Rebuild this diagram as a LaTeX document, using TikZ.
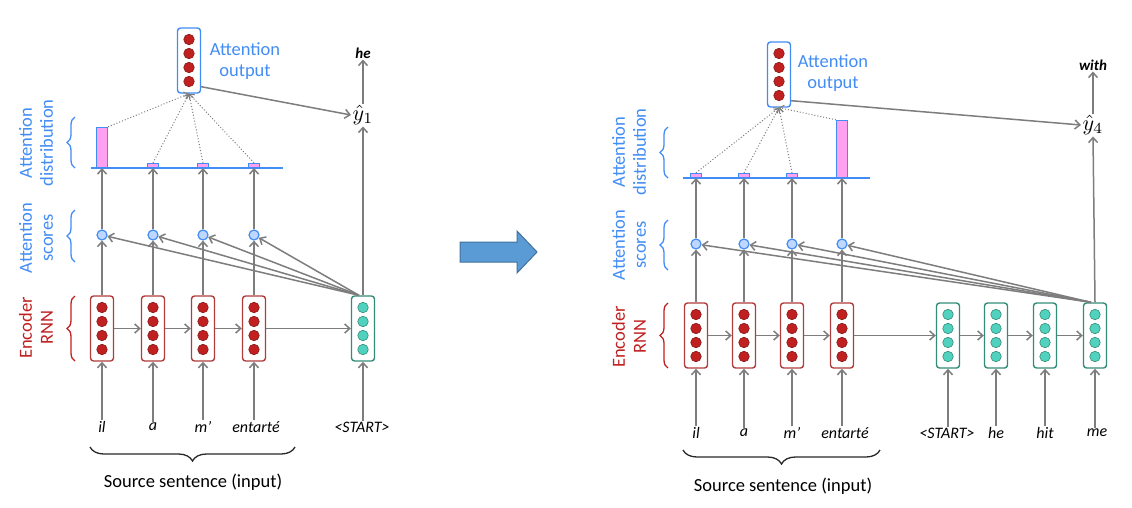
\documentclass[tikz,border=0pt]{standalone}
\usepackage{fontspec}
\setmainfont{Carlito}
\usetikzlibrary{arrows.meta,decorations.pathreplacing,calc}
\definecolor{lblue}{RGB}{66,140,245}
\definecolor{encred}{RGB}{176,60,60}
\definecolor{dotred}{RGB}{192,32,32}
\definecolor{decteal}{RGB}{50,140,120}
\definecolor{dotteal}{RGB}{80,210,190}
\definecolor{arrgray}{RGB}{125,125,125}
\definecolor{barpink}{RGB}{255,160,240}
\definecolor{scorefill}{RGB}{190,215,255}
\definecolor{bigblue}{RGB}{91,155,213}
\definecolor{bigborder}{RGB}{65,113,156}
\definecolor{bracecol}{RGB}{40,40,40}
\tikzset{
  vecbox/.style={draw, rounded corners=3pt, line width=1.4pt, minimum width=23pt, minimum height=65pt, inner sep=0pt, fill=white},
  encbox/.style={vecbox, draw=encred},
  decbox/.style={vecbox, draw=decteal},
  outbox/.style={vecbox, draw=lblue},
  vdot/.style={circle, inner sep=0pt, minimum size=10.5pt, line width=0.6pt},
  reddot/.style={vdot, fill=dotred, draw=dotred!70!black},
  tealdot/.style={vdot, fill=dotteal, draw=decteal},
  score/.style={circle, draw=lblue, fill=scorefill, line width=1.2pt, minimum size=10pt, inner sep=0pt},
  bar/.style={draw=lblue, fill=barpink, line width=1.2pt, minimum width=11pt, inner sep=0pt, anchor=south},
  arr/.style={draw=arrgray, line width=1.5pt, -{Straight Barb[length=5pt,width=9pt]}},
  dotarr/.style={draw=arrgray, line width=1pt, dotted, -{Straight Barb[length=4pt,width=7pt]}},
  lbl/.style={text=lblue, font=\fontsize{18.5}{21}\selectfont, align=center},
  rlbl/.style={text=dotred, font=\fontsize{18.5}{21}\selectfont, align=center},
  word/.style={font=\fontsize{16}{18}\selectfont\itshape, inner sep=1pt},
  outword/.style={font=\fontsize{15}{18}\selectfont\bfseries\itshape, inner sep=1pt},
  yhat/.style={inner sep=1.5pt},
  sbrace/.style={decorate, decoration={brace, amplitude=8pt}, line width=1.3pt},
  bbrace/.style={decorate, decoration={brace, amplitude=14pt}, line width=1.3pt, draw=bracecol},
  baseline/.style={draw=lblue, line width=1.4pt},
  bigarrow/.style={fill=bigblue, draw=bigborder, line width=1pt},
}
\newcommand\vecnode[4]{%
  \node[#3] (#1) at (#2) {};
  \foreach \d [count=\k] in {-21,-7,7,21} \node[#4] (#1d\k) at ($(#1.center)+(0,\d)$) {};
}
\begin{document}
\begin{tikzpicture}[x=1pt,y=-1pt]
\useasboundingbox (0,0) rectangle (1132,507);

% ================= LEFT PANEL =================
\vecnode{le1}{102,328.5}{encbox}{reddot}
\vecnode{le2}{153,328.5}{encbox}{reddot}
\vecnode{le3}{203,328.5}{encbox}{reddot}
\vecnode{le4}{254,328.5}{encbox}{reddot}
\vecnode{ld1}{363,328.5}{decbox}{tealdot}
\node[word] (lw1) at (102,427) {il};
\node[word] (lw2) at (153,427) {a};
\node[word] (lw3) at (203,427) {m’};
\node[word] (lw4) at (256,427) {entarté};
\node[word] (lw5) at (362,427) {<START>};
\foreach \i/\b in {1/le1,2/le2,3/le3,4/le4,5/ld1} \draw[arr] (lw\i.north -| \b.south) -- (\b.south);
\draw[arr] (le1.east) -- (le2.west);
\draw[arr] (le2.east) -- (le3.west);
\draw[arr] (le3.east) -- (le4.west);
\draw[arr] (le4.east) -- (ld1.west);
\foreach \i/\x in {1/102,2/153,3/203,4/254} {
  \node[score] (ls\i) at (\x,235) {};
  \coordinate (lb\i) at (\x,168);
}
\coordinate (lbaseL) at (91,168);
\coordinate (lbaseR) at (283,168);
\draw[baseline] (lbaseL) -- (lbaseR);
\node[bar, minimum height=40pt] (lp1) at (lb1) {};
\node[bar, minimum height=4pt] (lp2) at (lb2) {};
\node[bar, minimum height=4pt] (lp3) at (lb3) {};
\node[bar, minimum height=4pt] (lp4) at (lb4) {};
\foreach \i in {1,2,3,4} {
  \draw[arr] (le\i.north) -- (ls\i.south);
  \draw[arr] (ls\i.north) -- (lb\i);
  \draw[arr] ([xshift=-4pt]ld1.north) -- (ls\i);
}
\vecnode{lo}{189,60.5}{outbox}{reddot}
\node[lbl] (lol) at (245,61) {Attention\\output};
\draw[dotarr] (lp1.north east) -- (lo.south);
\foreach \i in {2,3,4} \draw[dotarr] (lp\i.north) -- (lo.south);
\node[yhat] (ly) at (363,115) {\scalebox{2.2}{$\hat{y}_1$}};
\node[outword] (lout) at (363,53) {he};
\draw[arr] ($(lo.south east)+(0,-7)$) -- (ly.west);
\draw[arr] (ly.north) -- (lout.south);
\draw[arr] (ld1.north) -- (ly.south);
\node[rlbl, rotate=90] (lenc) at (36,328) {Encoder\\RNN};
\node[lbl, rotate=90] (lsc) at (36,238) {Attention\\scores};
\node[lbl, rotate=90] (ldi) at (36,143) {Attention\\distribution};
\draw[sbrace, draw=dotred] (75,361) -- (75,296);
\draw[sbrace, draw=lblue] (75,262) -- (75,210);
\draw[sbrace, draw=lblue] (75,168) -- (75,117);
\draw[bbrace] (295,447) -- (90,447);
\node[lbl, text=black] (lsrc) at (193,482) {Source sentence (input)};

% ================= BIG ARROW =================
\draw[bigarrow] (460,242) -- (517,242) -- (517,231) -- (537,252) -- (517,273) -- (517,262) -- (460,262) -- cycle;

% ================= RIGHT PANEL =================
\vecnode{re1}{696,335.5}{encbox}{reddot}
\vecnode{re2}{744,335.5}{encbox}{reddot}
\vecnode{re3}{792,335.5}{encbox}{reddot}
\vecnode{re4}{842,335.5}{encbox}{reddot}
\vecnode{rd1}{948,335.5}{decbox}{tealdot}
\vecnode{rd2}{996,335.5}{decbox}{tealdot}
\vecnode{rd3}{1045,335.5}{decbox}{tealdot}
\vecnode{rd4}{1095,335.5}{decbox}{tealdot}
\node[word] (rw1) at (696,433) {il};
\node[word] (rw2) at (744,433) {a};
\node[word] (rw3) at (792,433) {m’};
\node[word] (rw4) at (845,433) {entarté};
\node[word] (rw5) at (947,433) {<START>};
\node[word] (rw6) at (996,433) {he};
\node[word] (rw7) at (1045,433) {hit};
\node[word] (rw8) at (1097,433) {me};
\foreach \i/\b in {1/re1,2/re2,3/re3,4/re4,5/rd1,6/rd2,7/rd3,8/rd4} \draw[arr] (rw\i.north -| \b.south) -- (\b.south);
\draw[arr] (re1.east) -- (re2.west);
\draw[arr] (re2.east) -- (re3.west);
\draw[arr] (re3.east) -- (re4.west);
\draw[arr] (re4.east) -- (rd1.west);
\draw[arr] (rd1.east) -- (rd2.west);
\draw[arr] (rd2.east) -- (rd3.west);
\draw[arr] (rd3.east) -- (rd4.west);
\foreach \i/\x in {1/696,2/744,3/792,4/842} {
  \node[score] (rs\i) at (\x,244) {};
  \coordinate (rb\i) at (\x,178);
}
\coordinate (rbaseL) at (683,178);
\coordinate (rbaseR) at (870,178);
\draw[baseline] (rbaseL) -- (rbaseR);
\node[bar, minimum height=4pt] (rp1) at (rb1) {};
\node[bar, minimum height=4pt] (rp2) at (rb2) {};
\node[bar, minimum height=4pt] (rp3) at (rb3) {};
\node[bar, minimum height=57pt] (rp4) at (rb4) {};
\foreach \i in {1,2,3,4} {
  \draw[arr] (re\i.north) -- (rs\i.south);
  \draw[arr] (rs\i.north) -- (rb\i);
  \draw[arr] ([xshift=-4pt]rd4.north) -- (rs\i);
}
\vecnode{ro}{779,74.5}{outbox}{reddot}
\node[lbl] (rol) at (833,73) {Attention\\output};
\foreach \i in {1,2,3} \draw[dotarr] (rp\i.north) -- (ro.south);
\draw[dotarr] (rp4.north west) -- (ro.south);
\node[yhat] (ry) at (1093,125) {\scalebox{2.2}{$\hat{y}_4$}};
\node[outword] (rout) at (1093,65) {with};
\draw[arr] ($(ro.south east)+(0,-7)$) -- (ry.west);
\draw[arr] (ry.north) -- (rout.south);
\draw[arr] (rd4.north) -- (ry.south);
\node[rlbl, rotate=90] (renc) at (629,337) {Encoder\\RNN};
\node[lbl, rotate=90] (rsc) at (629,245) {Attention\\scores};
\node[lbl, rotate=90] (rdi) at (629,152) {Attention\\distribution};
\draw[sbrace, draw=dotred] (668,368) -- (668,303);
\draw[sbrace, draw=lblue] (668,270) -- (668,220);
\draw[sbrace, draw=lblue] (668,178) -- (668,127);
\draw[bbrace] (880,450) -- (683,450);
\node[lbl, text=black] (rsrc) at (783,486) {Source sentence (input)};
\end{tikzpicture}
\end{document}
